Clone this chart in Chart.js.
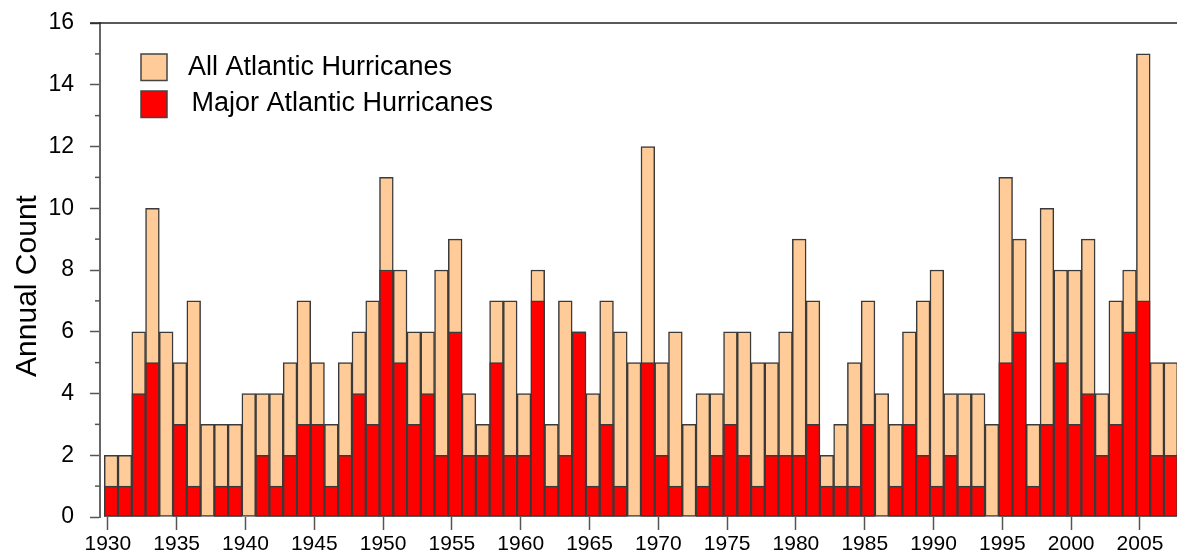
<!DOCTYPE html>
<html>
<head>
<meta charset="utf-8">
<title>Atlantic Hurricanes 1930-2007</title>
<script src="https://cdn.jsdelivr.net/npm/chart.js@4.4.1/dist/chart.umd.min.js"></script>
<style>
  html, body { margin: 0; padding: 0; background: #fff; }
  #wrap { width: 1177px; height: 556px; }
</style>
</head>
<body>
<div id="wrap"><canvas id="grafico"></canvas></div>
<script>
// años de la serie
const years = [
  1930, 1931, 1932, 1933, 1934, 1935, 1936, 1937, 1938, 1939,
  1940, 1941, 1942, 1943, 1944, 1945, 1946, 1947, 1948, 1949,
  1950, 1951, 1952, 1953, 1954, 1955, 1956, 1957, 1958, 1959,
  1960, 1961, 1962, 1963, 1964, 1965, 1966, 1967, 1968, 1969,
  1970, 1971, 1972, 1973, 1974, 1975, 1976, 1977, 1978, 1979,
  1980, 1981, 1982, 1983, 1984, 1985, 1986, 1987, 1988, 1989,
  1990, 1991, 1992, 1993, 1994, 1995, 1996, 1997, 1998, 1999,
  2000, 2001, 2002, 2003, 2004, 2005, 2006, 2007
];

// todos los huracanes por año
const allHurricanes = [
  2, 2, 6, 10, 6, 5, 7, 3, 3, 3,
  4, 4, 4, 5, 7, 5, 3, 5, 6, 7,
  11, 8, 6, 6, 8, 9, 4, 3, 7, 7,
  4, 8, 3, 7, 6, 4, 7, 6, 5, 12,
  5, 6, 3, 4, 4, 6, 6, 5, 5, 6,
  9, 7, 2, 3, 5, 7, 4, 3, 6, 7,
  8, 4, 4, 4, 3, 11, 9, 3, 10, 8,
  8, 9, 4, 7, 8, 15, 5, 5
];

// huracanes mayores por año
const majorHurricanes = [
  1, 1, 4, 5, 0, 3, 1, 0, 1, 1,
  0, 2, 1, 2, 3, 3, 1, 2, 4, 3,
  8, 5, 3, 4, 2, 6, 2, 2, 5, 2,
  2, 7, 1, 2, 6, 1, 3, 1, 0, 5,
  2, 1, 0, 1, 2, 3, 2, 1, 2, 2,
  2, 3, 1, 1, 1, 3, 0, 1, 3, 2,
  1, 2, 1, 1, 0, 5, 6, 1, 3, 5,
  3, 4, 2, 3, 6, 7, 2, 2
];

const xTickYears = [1930, 1935, 1940, 1945, 1950, 1955, 1960, 1965, 1970, 1975, 1980, 1985, 1990, 1995, 2000, 2005];
const yTickValues = [0, 2, 4, 6, 8, 10, 12, 14, 16];

const seriesNames = ['All Atlantic Hurricanes', 'Major Atlantic Hurricanes'];
const PEACH = '#FFCC99';
const RED = '#FF0000';
const BORDE = '#3a3a3a';
const FUENTE = '"Liberation Sans", Arial, sans-serif';

const puntos = arr => arr.map((v, i) => ({ x: years[i], y: v }));

// leyenda, titulo del eje y, marco superior y ticks menores
const extras = {
  id: 'extras',
  afterDraw(chart) {
    const c = chart.ctx;
    const area = chart.chartArea;
    const y = chart.scales.y;
    c.save();

    // linea superior
    c.strokeStyle = '#222';
    c.lineWidth = 1.5;
    c.beginPath();
    c.moveTo(90, area.top);
    c.lineTo(area.right, area.top);
    c.stroke();

    // ticks menores en valores impares
    c.strokeStyle = '#555';
    c.lineWidth = 1.5;
    for (let v = 1; v < 16; v += 2) {
      const py = y.getPixelForValue(v);
      c.beginPath();
      c.moveTo(95, py);
      c.lineTo(area.left, py);
      c.stroke();
    }

    // titulo eje y
    c.fillStyle = '#000';
    c.font = '30px ' + FUENTE;
    c.textAlign = 'center';
    c.textBaseline = 'alphabetic';
    c.translate(36, 286);
    c.rotate(-Math.PI / 2);
    c.fillText('Annual Count', 0, 0);
    c.setTransform(1, 0, 0, 1, 0, 0);

    // leyenda
    const colores = [PEACH, RED];
    const cajasY = [54, 91];
    const textoX = [188, 191.5];
    const textoY = [67.5, 104];
    c.font = '27px ' + FUENTE;
    c.textAlign = 'left';
    c.textBaseline = 'middle';
    seriesNames.forEach((nombre, i) => {
      c.fillStyle = colores[i];
      c.fillRect(141, cajasY[i], 26, 26.5);
      c.strokeStyle = '#444';
      c.lineWidth = 1.5;
      c.strokeRect(141, cajasY[i], 26, 26.5);
      c.fillStyle = '#000';
      c.fillText(nombre, textoX[i], textoY[i]);
    });

    c.restore();
  }
};

const ctx = document.getElementById('grafico').getContext('2d');
window.myChart = new Chart(ctx, {
  type: 'bar',
  data: {
    datasets: [
      {
        label: seriesNames[1],
        data: puntos(majorHurricanes),
        backgroundColor: RED,
        borderColor: BORDE,
        borderWidth: 1.5,
        borderSkipped: false,
        order: 0
      },
      {
        label: seriesNames[0],
        data: puntos(allHurricanes),
        backgroundColor: PEACH,
        borderColor: BORDE,
        borderWidth: 1.5,
        borderSkipped: false,
        order: 1
      }
    ]
  },
  options: {
    responsive: true,
    maintainAspectRatio: false,
    animation: false,
    layout: { padding: { top: 23, right: 0, bottom: 0, left: 0 } },
    datasets: {
      bar: { grouped: false, barPercentage: 1, categoryPercentage: 1 }
    },
    plugins: {
      legend: { display: false },
      tooltip: { enabled: false }
    },
    scales: {
      x: {
        type: 'linear',
        offset: false,
        min: 1929.19,
        max: 2007.45,
        afterBuildTicks: s => { s.ticks = xTickYears.map(v => ({ value: v - 0.24 })); },
        afterFit: s => { s.height = 39; },
        border: { display: false },
        grid: {
          offset: false,
          drawOnChartArea: false,
          drawTicks: true,
          tickLength: 13,
          tickColor: '#555',
          tickWidth: 1.5
        },
        ticks: {
          autoSkip: false,
          maxRotation: 0,
          padding: 2,
          color: '#000',
          font: { family: FUENTE, size: 21 },
          callback: (v, i) => String(xTickYears[i])
        }
      },
      y: {
        min: 0,
        max: 16,
        afterBuildTicks: s => { s.ticks = yTickValues.map(v => ({ value: v })); },
        afterFit: s => {
          s.width = 100;
          s.paddingTop = 0;
          s.paddingBottom = 0;
        },
        border: { display: true, color: '#666', width: 2 },
        grid: {
          drawOnChartArea: false,
          drawTicks: true,
          tickLength: 10,
          tickColor: '#555',
          tickWidth: 1.5
        },
        ticks: {
          padding: 16,
          color: '#000',
          font: { family: FUENTE, size: 23 }
        }
      }
    }
  },
  plugins: [extras]
});
</script>
</body>
</html>
